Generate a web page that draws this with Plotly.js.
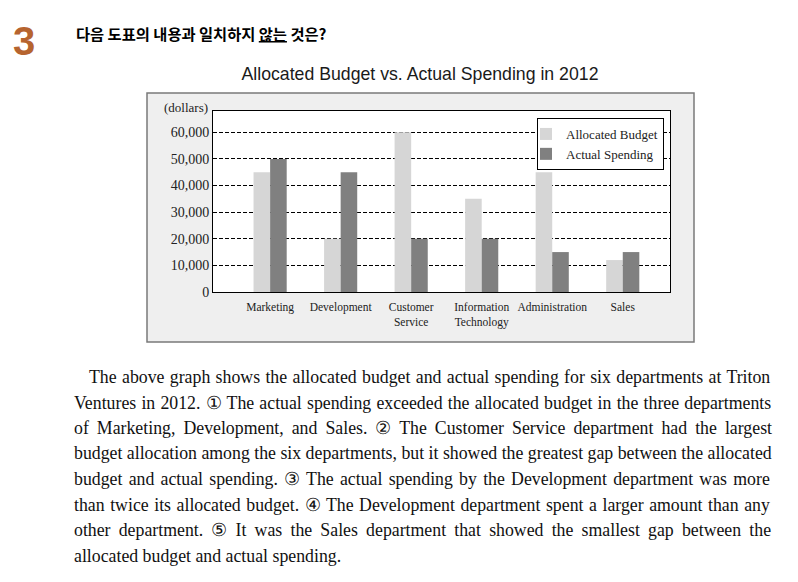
<!DOCTYPE html>
<html><head><meta charset="utf-8">
<script src="https://cdn.plot.ly/plotly-3.0.1.min.js"></script>
<style>html,body{margin:0;padding:0;background:#fff}#chart{width:798px;height:582px}</style>
</head><body><div id="chart"></div>
<script>
// ---- data ----
const departments = ['Marketing', 'Development', 'Customer<br>Service', 'Information<br>Technology', 'Administration', 'Sales'];
const allocatedBudget = [45000, 20000, 60000, 35000, 45000, 12000];
const actualSpending = [50000, 45000, 20000, 20000, 15000, 15000];
const yTickValues = [0, 10000, 20000, 30000, 40000, 50000, 60000];
const seriesNames = ['Allocated Budget', 'Actual Spending'];
const chartTitle = 'Allocated Budget vs. Actual Spending in 2012';
const unitLabel = '(dollars)';
const questionNumber = '3';
const questionText = '다음 도표의 내용과 일치하지 <span style="text-decoration:underline">않는</span> 것은?';
const passageLines = [
  'The above graph shows the allocated budget and actual spending for six departments at Triton',
  'Ventures in 2012. \u2460 The actual spending exceeded the allocated budget in the three departments',
  'of Marketing, Development, and Sales. \u2461 The Customer Service department had the largest',
  'budget allocation among the six departments, but it showed the greatest gap between the allocated',
  'budget and actual spending. \u2462 The actual spending by the Development department was more',
  'than twice its allocated budget. \u2463 The Development department spent a larger amount than any',
  'other department. \u2464 It was the Sales department that showed the smallest gap between the',
  'allocated budget and actual spending.'
];

// ---- presentation (justification of passage lines, px of extra word spacing) ----
const lineWordSpacing = [0.9, 0.75, 3.6, 0, 1.8, 1.1, 3.75, 0];
const lineCentersY = [377, 403, 428, 453, 479, 505, 530, 556];

const W = 798, H = 582;
const px = v => v / W;
const py = v => 1 - v / H;
const serif = '"Liberation Serif", "Times New Roman", serif';

const traces = [
  { type: 'bar', x: departments, y: allocatedBudget, name: seriesNames[0],
    marker: { color: '#d6d6d6', line: { width: 0 } } },
  { type: 'bar', x: departments, y: actualSpending, name: seriesNames[1],
    marker: { color: '#808080', line: { width: 0 } } }
];

const annotations = [
  { text: questionNumber, xref: 'paper', yref: 'paper', x: px(11), y: py(41), xanchor: 'left', yanchor: 'middle',
    showarrow: false, font: { family: '"Liberation Sans", Arial, sans-serif', size: 40, color: '#b6642f', weight: 'bold' } },
  { text: '<b>' + questionText + '</b>', xref: 'paper', yref: 'paper', x: px(74), y: py(33), xanchor: 'left', yanchor: 'middle',
    showarrow: false, font: { family: '"Noto Sans CJK KR", sans-serif', size: 15.3, color: '#000' } },
  { text: unitLabel, xref: 'paper', yref: 'paper', x: px(210), y: py(107), xanchor: 'right', yanchor: 'middle',
    showarrow: false, font: { family: serif, size: 13, color: '#222' } }
];
passageLines.forEach((t, i) => {
  annotations.push({ text: '<span style="word-spacing:' + lineWordSpacing[i] + 'px">' + t + '</span>',
    xref: 'paper', yref: 'paper', x: px(i === 0 ? 87 : 72), y: py(lineCentersY[i]),
    xanchor: 'left', yanchor: 'middle', showarrow: false, align: 'left',
    font: { family: serif, size: 17.8, color: '#111' } });
});

const layout = {
  width: W, height: H,
  margin: { l: 0, r: 0, t: 0, b: 0 },
  paper_bgcolor: '#ffffff', plot_bgcolor: '#ffffff',
  showlegend: true,
  barmode: 'group', bargap: 0.53, bargroupgap: 0,
  title: { text: chartTitle, x: px(420), xanchor: 'center', y: py(74), yanchor: 'middle', yref: 'paper',
    font: { family: '"Liberation Sans", Arial, sans-serif', size: 17.7, color: '#1a1a1a' } },
  xaxis: { domain: [px(213), px(670)], type: 'category', range: [-0.81, 5.67],
    showline: true, linecolor: '#000', linewidth: 1, mirror: true, ticks: '', showgrid: false,
    ticklabelstandoff: 4,
    tickfont: { family: serif, size: 11.5, color: '#222' }, fixedrange: true },
  xaxis2: { overlaying: 'x', anchor: 'y', type: 'linear', range: [-0.81, 5.67], domain: [px(213), px(670)],
    tickvals: [0.5, 1.5, 2.5, 3.5, 4.5], ticks: 'inside', ticklen: 4, tickcolor: '#000', tickwidth: 1,
    showticklabels: false, showgrid: false, zeroline: false, showline: false, side: 'bottom' },
  yaxis: { domain: [py(292), py(111)], range: [0, 68000], tickvals: yTickValues, tickformat: ',',
    showline: true, linecolor: '#000', linewidth: 1, mirror: true, ticks: '', zeroline: false,
    showgrid: true, gridcolor: '#000', gridwidth: 1, griddash: '4px,2px',
    tickfont: { family: serif, size: 14, color: '#222' }, fixedrange: true },
  legend: { x: px(537), y: py(118), xanchor: 'left', yanchor: 'top', bgcolor: '#ffffff',
    bordercolor: '#000', borderwidth: 1, indentation: -12, font: { family: serif, size: 13, color: '#222' } },
  shapes: [
    { type: 'rect', xref: 'paper', yref: 'paper', x0: px(147), x1: px(694), y0: py(93), y1: py(342),
      fillcolor: '#efefef', line: { color: '#7a7a7a', width: 1.5 }, layer: 'below' },
    { type: 'rect', xref: 'x domain', yref: 'y domain', x0: 0, x1: 1, y0: 0, y1: 1,
      fillcolor: '#ffffff', line: { width: 0 }, layer: 'below' }
  ],
  annotations: annotations
};

Plotly.newPlot('chart', traces, layout, { displayModeBar: false, staticPlot: true });
</script>
</body></html>
